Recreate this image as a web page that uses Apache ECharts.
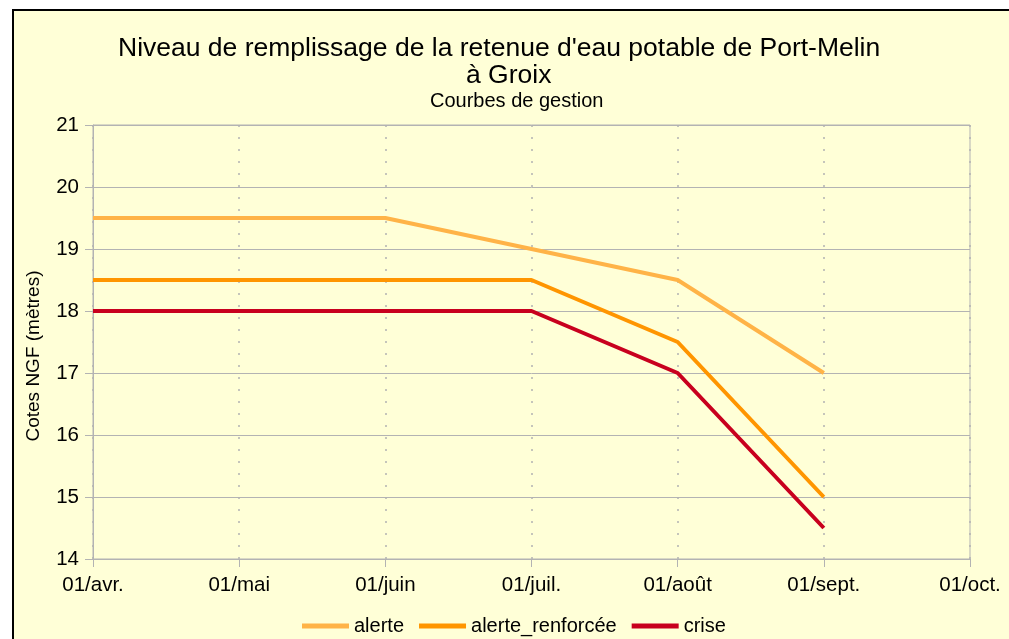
<!doctype html>
<html>
    <head>
        <meta charset="utf-8">
        <title>Port-Melin</title>
        <style>
            html, body { margin: 0; padding: 0; background: #fff; overflow: hidden; }
            #main {
                position: absolute; left: 12px; top: 9px;
                width: 995px; height: 628px;
                border-left: 2px solid #000; border-top: 2px solid #000;
                background: #ffffd7;
            }
        </style>
    </head>
    <body>
        <div id="main"></div>
        <script src="https://cdn.jsdelivr.net/npm/echarts@6/dist/echarts.min.js"></script>
        <script>
            var months = ['01/avr.', '01/mai', '01/juin', '01/juil.', '01/août', '01/sept.', '01/oct.'];
            var alerte = [19.5, 19.5, 19.5, 19, 18.5, 17, null];
            var alerteRenforcee = [18.5, 18.5, 18.5, 18.5, 17.5, 15, null];
            var crise = [18, 18, 18, 18, 17, 14.5, null];

            var font = 'Liberation Sans';
            var grey = '#b3b3b3';

            var chart = echarts.init(document.getElementById('main'));

            function line(name, data, color) {
                return {
                    name: name,
                    type: 'line',
                    data: data,
                    showSymbol: false,
                    symbol: 'none',
                    lineStyle: { color: color, width: 4 },
                    itemStyle: { color: color }
                };
            }

            var titleStyle = { fontFamily: font, fontSize: 26.5, fontWeight: 'normal', color: '#000', lineHeight: 30 };

            chart.setOption({
                backgroundColor: '#ffffd7',
                animation: false,
                title: [{
                    text: "Niveau de remplissage de la retenue d'eau potable de Port-Melin",
                    left: 104, top: 23, padding: 0,
                    textStyle: titleStyle
                }, {
                    text: 'à Groix',
                    left: 452, top: 50, padding: 0,
                    textStyle: titleStyle
                }, {
                    text: 'Courbes de gestion',
                    left: 416, top: 79, padding: 0,
                    textStyle: { fontFamily: font, fontSize: 20, fontWeight: 'normal', color: '#000', lineHeight: 22 }
                }],
                legend: {
                    left: 288, top: 605, padding: 0,
                    icon: 'rect',
                    itemWidth: 47, itemHeight: 5, itemGap: 15,
                    textStyle: { fontFamily: font, fontSize: 20, color: '#000' },
                    data: ['alerte', 'alerte_renforcée', 'crise']
                },
                grid: {
                    left: 79, right: 39, top: 114, bottom: 80,
                    show: true, borderColor: grey, borderWidth: 1
                },
                xAxis: {
                    type: 'category',
                    data: months,
                    boundaryGap: false,
                    axisLine: { lineStyle: { color: grey, width: 1 } },
                    axisTick: { show: true, length: 8, lineStyle: { color: grey } },
                    axisLabel: { fontFamily: font, fontSize: 20.5, color: '#000', margin: 16 },
                    splitLine: { show: true, lineStyle: { color: grey, type: [2, 10], width: 1.5 } }
                },
                yAxis: {
                    type: 'value',
                    min: 14, max: 21, interval: 1,
                    name: 'Cotes NGF (mètres)',
                    nameLocation: 'middle',
                    nameGap: 50,
                    nameTextStyle: { fontFamily: font, fontSize: 19, color: '#000', padding: [0, 28, 0, 0] },
                    axisLine: { show: true, lineStyle: { color: grey, width: 1 } },
                    axisTick: { show: true, length: 8, lineStyle: { color: grey } },
                    axisLabel: { fontFamily: font, fontSize: 20.5, color: '#000', margin: 14 },
                    splitLine: { show: true, lineStyle: { color: grey, width: 1 } }
                },
                series: [
                    line('alerte', alerte, '#ffb347'),
                    line('alerte_renforcée', alerteRenforcee, '#ff9500'),
                    line('crise', crise, '#c8001e')
                ]
            });

            window.onresize = chart.resize;
        </script>
    </body>
</html>
